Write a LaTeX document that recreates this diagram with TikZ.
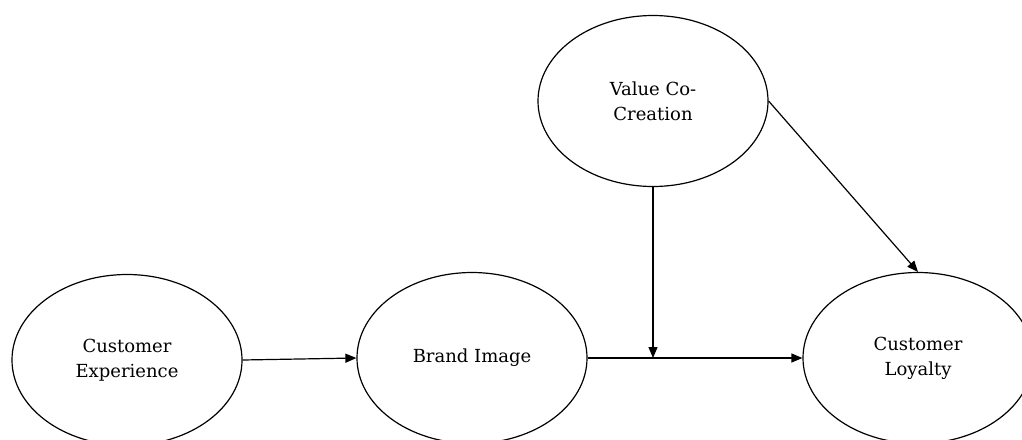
\documentclass[tikz,border=0pt]{standalone}
\usepackage{fontspec}
\setmainfont{DejaVu Serif}
\usetikzlibrary{shapes.geometric,arrows.meta}
\tikzset{
  construct/.style={draw, ellipse, line width=1.2pt, minimum width=230pt, minimum height=171pt,
    inner sep=0pt, align=center, font=\fontsize{18}{25}\selectfont},
  link/.style={draw, line width=1.2pt, -{Triangle[length=11pt,width=9pt]}}
}
\begin{document}
\begin{tikzpicture}[x=1pt,y=-1pt]
  \useasboundingbox (0,0) rectangle (1022,439);
  \clip (0,0) rectangle (1022,439);
  \fill[white] (0,0) rectangle (1022,439);
  % latent constructs
  \node[construct] (ce) at (127,360) {Customer\\Experience};
  \node[construct] (bi) at (472,358) {Brand Image};
  \node[construct] (vc) at (653,101) {Value Co-\\Creation};
  \node[construct] (cl) at (918,358) {Customer\\Loyalty};
  % paths
  \coordinate (mod) at (vc.south |- bi.east);
  \draw[link] (ce.east) -- (bi.west);
  \draw[link] (bi.east) -- (cl.west);
  \draw[link] (vc.south) -- (mod);
  \draw[link] (vc.east) -- (cl.north);
\end{tikzpicture}
\end{document}
